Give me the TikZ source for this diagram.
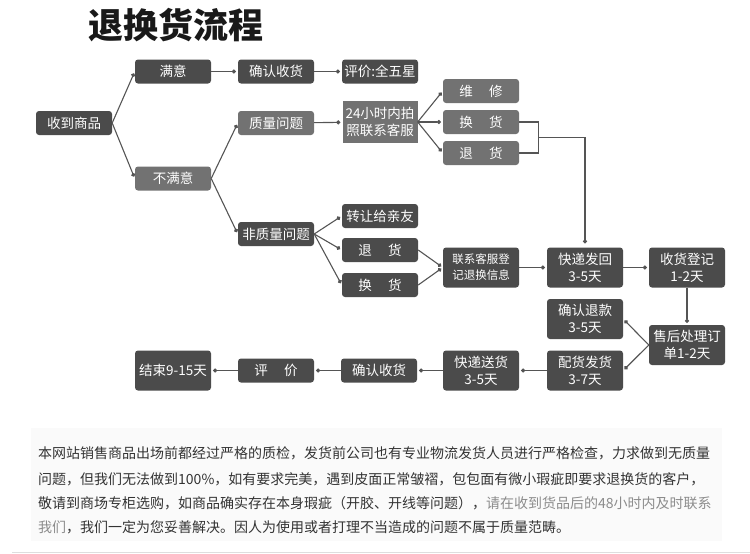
\documentclass[tikz,border=0pt]{standalone}
\usepackage{fontspec}
\setmainfont{Noto Sans CJK SC}
\usetikzlibrary{arrows.meta}
\definecolor{boxdark}{HTML}{4B4B4B}
\definecolor{boxlite}{HTML}{727272}
\definecolor{linkgray}{HTML}{555555}
\definecolor{notedark}{HTML}{333333}
\definecolor{notelite}{HTML}{8C8C8C}
\begin{document}
\begin{tikzpicture}[x=1pt, y=-1pt,
  darkbox/.style={fill=boxdark, text=white, rounded corners=3pt, minimum width=76pt,
                  minimum height=24pt, inner sep=0pt, align=center,
                  font=\fontsize{13.5}{17}\selectfont},
  litebox/.style={darkbox, fill=boxlite},
  tallbox/.style={darkbox, minimum height=40pt},
  link/.style={-{Circle[length=4pt]}, line width=1.1pt, draw=linkgray, shorten >=2pt},
  plain/.style={line width=1.1pt, draw=linkgray},
  note/.style={anchor=west, inner sep=0pt, font=\fontsize{14}{16}\selectfont, text=notedark}
]
\useasboundingbox (0,0) rectangle (750,554);
\fill[black!2] (31,428) rectangle (722,541);
\draw[black!13, line width=1pt] (12,552.5) -- (750,552.5);

\node[font=\fontsize{35}{40}\selectfont\bfseries, text=black!90] (title) at (176,25) {退换货流程};

% flow boxes
\node[darkbox] (recv) at (74,123) {收到商品};
\node[darkbox] (sat) at (173,71.5) {满意};
\node[darkbox] (confirmA) at (276,71.5) {确认收货};
\node[darkbox] (rate5) at (380,71.5) {评价:全五星};
\node[litebox] (unsat) at (173,178.5) {不满意};
\node[litebox] (quality) at (276,123) {质量问题};
\node[litebox, rounded corners=0pt, minimum height=42pt, minimum width=75pt] (photo) at (380,122) {24小时内拍\\照联系客服};
\node[litebox] (repair) at (481,91) {维\hspace{1.2em}修};
\node[litebox] (swapA) at (481,122) {换\hspace{1.2em}货};
\node[litebox] (retA) at (481,153) {退\hspace{1.2em}货};
\node[darkbox] (nonq) at (276,234) {非质量问题};
\node[darkbox] (gift) at (380,216) {转让给亲友};
\node[darkbox] (retB) at (380,250) {退\hspace{1.2em}货};
\node[darkbox] (swapB) at (380,285) {换\hspace{1.2em}货};
\node[tallbox, font=\fontsize{11.5}{16}\selectfont] (register) at (481,267.5) {联系客服登\\记退换信息};
\node[tallbox] (shipback) at (585,267.5) {快递发回\\3-5天};
\node[tallbox] (logrecv) at (687,267.5) {收货登记\\1-2天};
\node[tallbox] (refund) at (585,319) {确认退款\\3-5天};
\node[tallbox] (process) at (687,345) {售后处理订\\单1-2天};
\node[tallbox] (dispatch) at (585,370.5) {配货发货\\3-7天};
\node[tallbox] (deliver) at (481,370.5) {快递送货\\3-5天};
\node[darkbox] (confirmB) at (379,370.5) {确认收货};
\node[darkbox] (rateB) at (276,370.5) {评\hspace{1.2em}价};
\node[tallbox] (finish) at (173,370.5) {结束9-15天};

% connectors
\draw[link] (recv.east) -- (sat.west);
\draw[link] (recv.east) -- (unsat.west);
\draw[link] (sat) -- (confirmA);
\draw[link] (confirmA) -- (rate5);
\draw[link] (unsat.east) -- (quality.west);
\draw[link] (unsat.east) -- (nonq.west);
\draw[link] (quality) -- (photo);
\draw[link] (photo.east) -- (repair.west);
\draw[link] (photo.east) -- (swapA.west);
\draw[link] (photo.east) -- (retA.west);
\draw[plain] (swapA.east) -- ++(19,0) |- (retA.east);
\coordinate (merge) at (538,137.5);
\draw[link, shorten >=4pt] (merge) -| (shipback.north);
\draw[link] (nonq.east) -- (gift.west);
\draw[link] (nonq.east) -- (retB.west);
\draw[link] (nonq.east) -- (swapB.west);
\draw[link] (retB.east) -- (register.west);
\draw[link] (swapB.east) -- (register.west);
\draw[link] (register) -- (shipback);
\draw[link] (shipback) -- (logrecv);
\draw[link] (logrecv) -- (process);
\draw[link] (process.west) -- (refund.east);
\draw[link] (process.west) -- (dispatch.east);
\draw[link] (dispatch) -- (deliver);
\draw[link] (deliver) -- (confirmB);
\draw[link] (confirmB) -- (rateB);
\draw[link] (rateB) -- (finish);

% note text
\node[note] (line1) at (38,453) {本网站销售商品出场前都经过严格的质检，发货前公司也有专业物流发货人员进行严格检查，力求做到无质量};
\node[note] (line2) at (38,479) {问题，但我们无法做到100\%，如有要求完美，遇到皮面正常皱褶，包包面有微小瑕疵即要求退换货的客户，};
\node[note] (line3) at (38,503) {敬请到商场专柜选购，如商品确实存在本身瑕疵（开胶、开线等问题），\textcolor{notelite}{请在收到货品后的48小时内及时联系}};
\node[note] (line4) at (38,527) {\textcolor{notelite}{我们}，我们一定为您妥善解决。因人为使用或者打理不当造成的问题不属于质量范畴。};
\end{tikzpicture}
\end{document}
